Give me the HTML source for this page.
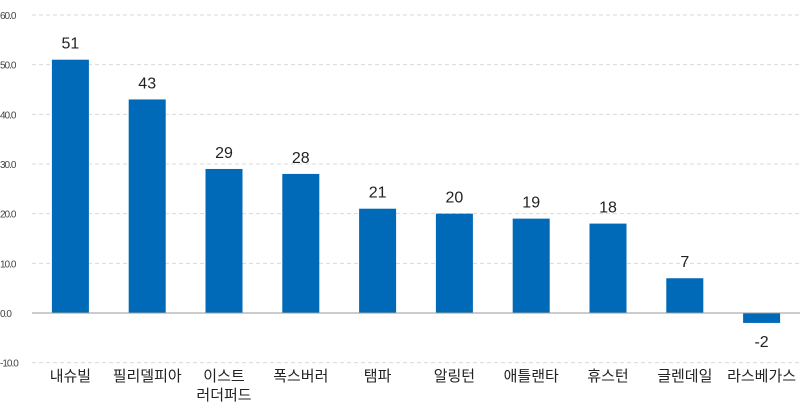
<!DOCTYPE html>
<html><head><meta charset="utf-8"><style>
body{margin:0;background:#fff;}
svg{display:block;font-family:"Liberation Sans","Noto Sans CJK KR",sans-serif;}
</style></head><body>
<svg id="chart" width="800" height="408"></svg>
<script>
const categories=["내슈빌","필리델피아","이스트\n러더퍼드","폭스버러","탬파","알링턴","애틀랜타","휴스턴","글렌데일","라스베가스"];
const values=[51,43,29,28,21,20,19,18,7,-2];
const ticks=[-10,0,10,20,30,40,50,60];
const tickLabels=["-10.0","0.0","10.0","20.0","30.0","40.0","50.0","60.0"];
const NS="http://www.w3.org/2000/svg";
const svg=document.getElementById('chart');
const x0=32,x1=800,yTop=15,yZero=313;
const y=v=>yZero-(v/60)*(yZero-yTop);
const bw=(x1-x0)/categories.length;
const xc=i=>x0+bw*(i+0.5);
function mk(t,a){const e=document.createElementNS(NS,t);for(const k in a)e.setAttribute(k,a[k]);svg.appendChild(e);return e;}
ticks.forEach((t,i)=>{
  if(t!==0){const g=mk('line',{x1:x0,x2:x1,y1:y(t),y2:y(t),stroke:'#d9d9d9','stroke-dasharray':'4,3'});
  
  }
  const l=mk('text',{x:0,y:y(t)+4,'font-size':10,fill:'#444','letter-spacing':'-1'});
  l.textContent=tickLabels[i];
  
  
});
values.forEach((v,i)=>{
  const top=Math.min(y(v),y(0)),h=Math.abs(y(v)-y(0));
  const r=mk('rect',{x:xc(i)-18.5,y:top,width:37,height:h,fill:'#006ab8'});
  
  
  const ly=v>=0?y(v)-11:y(v)+24;
  const t=mk('text',{x:xc(i),y:ly,'font-size':16,fill:'#222','text-anchor':'middle'});
  t.textContent=String(v);
  
  
  const lines=categories[i].split('\n');
  lines.forEach((s,j)=>{
    const c=mk('text',{x:xc(i),y:381+j*19,'font-size':15,fill:'#222','text-anchor':'middle'});
    c.textContent=s;
    
    
  });
});
const z=mk('line',{x1:x0,x2:x1,y1:yZero,y2:yZero,stroke:'#999','stroke-width':1});


</script>
</body></html>
